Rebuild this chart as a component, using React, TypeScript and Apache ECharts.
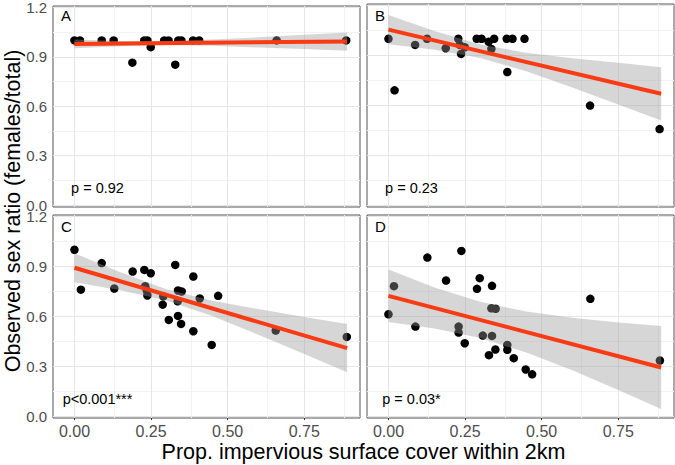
import { useEffect, useRef } from 'react';
import * as echarts from 'echarts';

// ---------- data ----------
const panelLetters = ['A', 'B', 'C', 'D'];
const pLabels = ['p = 0.92', 'p = 0.23', 'p<0.001***', 'p = 0.03*'];
const xTitle = 'Prop. impervious surface cover within 2km';
const yTitle = 'Observed sex ratio (females/total)';

const xTicks = [0, 0.25, 0.5, 0.75];
const xTickLabels = ['0.00', '0.25', '0.50', '0.75'];
const xMinor = [0.125, 0.375, 0.625, 0.875];
const yTicks = [0, 0.3, 0.6, 0.9, 1.2];
const yTickLabels = ['0.0', '0.3', '0.6', '0.9', '1.2'];
const yMinor = [0.15, 0.45, 0.75, 1.05];

const pointsA = [
  [0.0, 1.0], [0.018, 1.0], [0.089, 1.0], [0.128, 1.0], [0.228, 1.0], [0.238, 1.0],
  [0.293, 1.0], [0.307, 1.0], [0.339, 1.0], [0.349, 1.0], [0.387, 1.0], [0.407, 1.0],
  [0.66, 1.0], [0.887, 1.0], [0.189, 0.865], [0.249, 0.959], [0.329, 0.853],
];
const pointsB = [
  [0.0, 1.0], [0.02, 0.69], [0.087, 0.963], [0.126, 1.0], [0.187, 0.943], [0.228, 1.0],
  [0.233, 0.963], [0.237, 0.909], [0.249, 0.949], [0.288, 1.0], [0.304, 1.0], [0.327, 0.982],
  [0.336, 0.939], [0.345, 1.0], [0.388, 0.8], [0.386, 1.0], [0.405, 1.0], [0.444, 1.0],
  [0.658, 0.598], [0.885, 0.457],
];
const pointsC = [
  [0.0, 1.0], [0.021, 0.76], [0.089, 0.92], [0.13, 0.767], [0.19, 0.869], [0.228, 0.879],
  [0.249, 0.859], [0.231, 0.781], [0.236, 0.755], [0.238, 0.725], [0.29, 0.72], [0.288, 0.67],
  [0.308, 0.578], [0.329, 0.909], [0.338, 0.755], [0.35, 0.749], [0.337, 0.69], [0.338, 0.602],
  [0.348, 0.554], [0.388, 0.839], [0.388, 0.51], [0.409, 0.707], [0.469, 0.723], [0.448, 0.428],
  [0.657, 0.514], [0.889, 0.476],
];
const pointsD = [
  [0.0, 0.612], [0.018, 0.781], [0.088, 0.538], [0.127, 0.953], [0.188, 0.815], [0.229, 0.538],
  [0.229, 0.502], [0.238, 0.993], [0.249, 0.438], [0.289, 0.765], [0.298, 0.829], [0.308, 0.484],
  [0.338, 0.783], [0.336, 0.648], [0.35, 0.645], [0.338, 0.482], [0.328, 0.366], [0.349, 0.4],
  [0.388, 0.428], [0.388, 0.398], [0.409, 0.348], [0.448, 0.28], [0.469, 0.251], [0.659, 0.705],
  [0.886, 0.334],
];

// fitted line (value at x = 0 and x = 0.89) and its grey band
const fitEndsX = [0, 0.89];
const fitA = [0.979, 0.993];
const fitB = [1.055, 0.669];
const fitC = [0.892, 0.408];
const fitD = [0.723, 0.292];

const bandX = [0, 0.15, 0.3, 0.45, 0.6, 0.75, 0.89];
const bandLowA = [0.952, 0.965, 0.972, 0.967, 0.957, 0.948, 0.938];
const bandHighA = [1.006, 0.997, 0.996, 1.005, 1.019, 1.034, 1.048];
const bandLowB = [0.967, 0.934, 0.885, 0.804, 0.707, 0.605, 0.509];
const bandHighB = [1.143, 1.046, 0.965, 0.916, 0.883, 0.855, 0.829];
const bandLowC = [0.805, 0.756, 0.695, 0.601, 0.489, 0.373, 0.263];
const bandHighC = [0.979, 0.864, 0.763, 0.693, 0.643, 0.595, 0.553];
const bandLowD = [0.565, 0.527, 0.469, 0.382, 0.275, 0.157, 0.042];
const bandHighD = [0.881, 0.773, 0.687, 0.628, 0.591, 0.563, 0.542];

// ---------- layout ----------
const X_MIN = -0.07;
const X_MAX = 0.932;
const Y_MIN = -0.0117;
const Y_MAX = 1.209;
const FONT = 'Liberation Sans, Arial, Helvetica, sans-serif';
const RED = '#F93A12';

const grids = [
  { left: 53, top: 4, width: 307, height: 203 },
  { left: 367, top: 4, width: 307, height: 203 },
  { left: 53, top: 215, width: 307, height: 203 },
  { left: 367, top: 215, width: 307, height: 203 },
];

const panels = [
  { pts: pointsA, fit: fitA, lo: bandLowA, hi: bandHighA },
  { pts: pointsB, fit: fitB, lo: bandLowB, hi: bandHighB },
  { pts: pointsC, fit: fitC, lo: bandLowC, hi: bandHighC },
  { pts: pointsD, fit: fitD, lo: bandLowD, hi: bandHighD },
];

function lookup(v: number, vals: number[], labels: string[]) {
  const i = vals.findIndex((t) => Math.abs(t - v) < 1e-6);
  return i >= 0 ? labels[i] : '';
}

export default function App() {
  const ref = useRef<HTMLDivElement>(null);

  useEffect(() => {
    if (!ref.current) return;
    const chart = echarts.init(ref.current, undefined, { renderer: 'svg' });

    const majorLine = { color: '#E6E6E6', width: 1, type: 'solid' };
    const minorLine = { color: '#F2F2F2', width: 1, type: 'solid' };

    const xAxis: any[] = [];
    const yAxis: any[] = [];
    const series: any[] = [];
    const graphic: any[] = [];

    panels.forEach((p, i) => {
      const bottomRow = i >= 2;
      const leftCol = i % 2 === 0;
      xAxis.push({
        gridIndex: i,
        type: 'value',
        min: X_MIN,
        max: X_MAX,
        axisLine: { show: false },
        splitLine: { show: false },
        axisTick: { show: bottomRow, length: 4, customValues: xTicks, lineStyle: { color: '#333333' } },
        axisLabel: {
          show: bottomRow,
          customValues: xTicks,
          formatter: (v: number) => lookup(v, xTicks, xTickLabels),
          color: '#4D4D4D',
          fontSize: 16,
          fontFamily: FONT,
          margin: 5,
        },
      });
      yAxis.push({
        gridIndex: i,
        type: 'value',
        min: Y_MIN,
        max: Y_MAX,
        axisLine: { show: false },
        splitLine: { show: false },
        axisTick: { show: leftCol, length: 4, customValues: yTicks, lineStyle: { color: '#333333' } },
        axisLabel: {
          show: leftCol,
          customValues: yTicks,
          formatter: (v: number) => lookup(v, yTicks, yTickLabels),
          color: '#4D4D4D',
          fontSize: 15,
          lineHeight: 11,
          fontFamily: FONT,
          margin: 6,
        },
      });

      series.push({
        type: 'scatter',
        xAxisIndex: i,
        yAxisIndex: i,
        data: p.pts,
        symbol: 'circle',
        symbolSize: 8.5,
        itemStyle: { color: '#000000', opacity: 1 },
        z: 2,
        silent: true,
        markLine: {
          silent: true,
          z: 1,
          symbol: ['none', 'none'],
          label: { show: false },
          data: [
            ...xMinor.map((v) => ({ xAxis: v, lineStyle: minorLine })),
            ...yMinor.map((v) => ({ yAxis: v, lineStyle: minorLine })),
            ...xTicks.map((v) => ({ xAxis: v, lineStyle: majorLine })),
            ...yTicks.map((v) => ({ yAxis: v, lineStyle: majorLine })),
          ],
        },
      });

      series.push({
        type: 'custom',
        xAxisIndex: i,
        yAxisIndex: i,
        z: 3,
        silent: true,
        data: [[bandX[0], p.lo[0]]],
        encode: { x: 0, y: 1 },
        renderItem: (_params: any, api: any) => {
          const upper = bandX.map((x, k) => api.coord([x, p.hi[k]]));
          const lower = bandX.map((x, k) => api.coord([x, p.lo[k]])).reverse();
          return {
            type: 'polygon',
            shape: { points: upper.concat(lower) },
            style: { fill: 'rgba(153,153,153,0.4)', stroke: 'none' },
          };
        },
      });

      series.push({
        type: 'line',
        xAxisIndex: i,
        yAxisIndex: i,
        z: 4,
        silent: true,
        showSymbol: false,
        symbol: 'none',
        data: fitEndsX.map((x, k) => [x, p.fit[k]]),
        lineStyle: { color: RED, width: 4, cap: 'butt' },
      });

      const g = grids[i];
      graphic.push({
        type: 'text',
        left: g.left + 8,
        top: g.top + 4,
        z: 20,
        style: { text: panelLetters[i], fill: '#000000', fontSize: 15, fontFamily: FONT },
        silent: true,
      });
      graphic.push({
        type: 'text',
        x: g.left + 44.5,
        y: g.top + g.height - 19.5,
        z: 20,
        style: {
          text: pLabels[i],
          fill: '#000000',
          fontSize: 14.5,
          fontFamily: FONT,
          textAlign: 'center',
          textVerticalAlign: 'middle',
        },
        silent: true,
      });
    });

    graphic.push({
      type: 'text',
      x: 363.5,
      y: 452,
      z: 20,
      style: {
        text: xTitle,
        fill: '#000000',
        fontSize: 21.5,
        fontFamily: FONT,
        textAlign: 'center',
        textVerticalAlign: 'middle',
      },
      silent: true,
    });
    graphic.push({
      type: 'text',
      x: 12.5,
      y: 211,
      z: 20,
      rotation: Math.PI / 2,
      style: {
        text: yTitle,
        fill: '#000000',
        fontSize: 21.5,
        fontFamily: FONT,
        textAlign: 'center',
        textVerticalAlign: 'middle',
      },
      silent: true,
    });

    chart.setOption({
      animation: false,
      backgroundColor: '#FFFFFF',
      grid: grids.map((g) => ({
        ...g,
        show: true,
        borderColor: '#555555',
        borderWidth: 1,
        backgroundColor: 'transparent',
        containLabel: false,
      })),
      xAxis,
      yAxis,
      series,
      graphic,
    });

    return () => chart.dispose();
  }, []);

  return (
    <div
      ref={ref}
      style={{ position: 'fixed', left: 0, top: 0, width: 675, height: 465 }}
    />
  );
}
